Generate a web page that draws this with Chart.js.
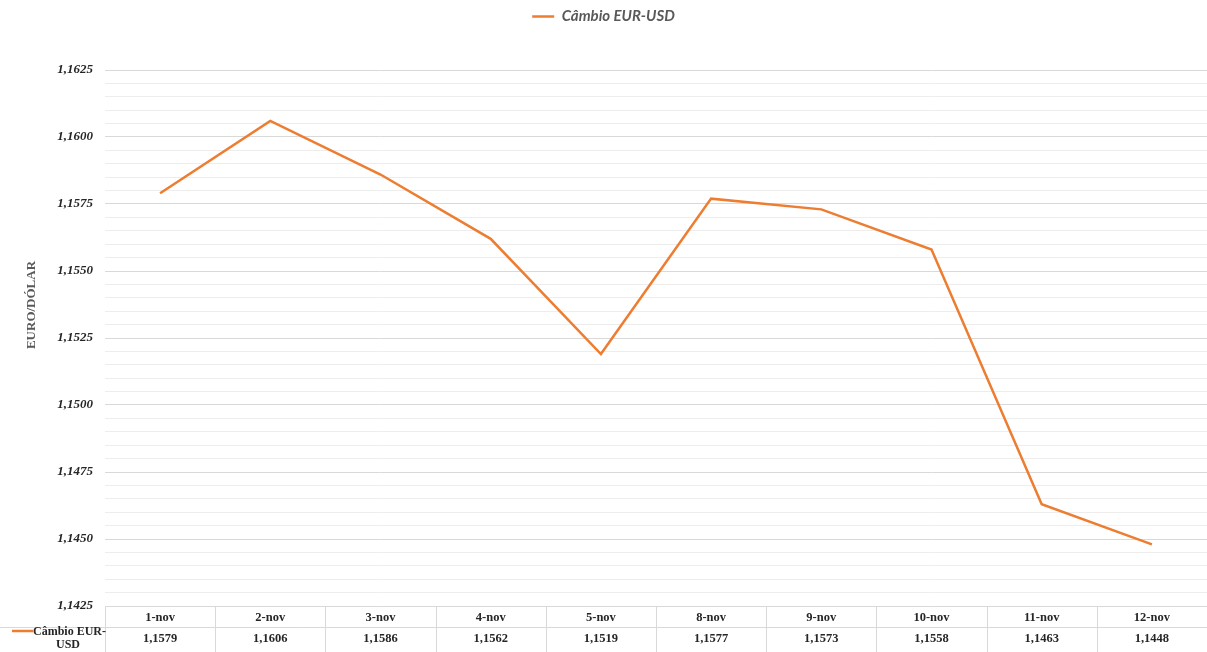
<!DOCTYPE html>
<html>
<head>
<meta charset="utf-8">
<script src="https://cdn.jsdelivr.net/npm/chart.js@4.4.1/dist/chart.umd.min.js"></script>
<style>
    html, body { margin: 0; padding: 0; background: #fff; }
    #wrap { width: 1207px; height: 652px; position: relative; }
</style>
</head>
<body>
<div id="wrap"><canvas id="fx-chart" width="1207" height="652"></canvas></div>
<script>
/* ---------- Data ---------- */

const days = ['1-nov', '2-nov', '3-nov', '4-nov', '5-nov', '8-nov', '9-nov', '10-nov', '11-nov', '12-nov'];
const eurUsd = [1.1579, 1.1606, 1.1586, 1.1562, 1.1519, 1.1577, 1.1573, 1.1558, 1.1463, 1.1448];
const seriesName = 'Câmbio EUR-USD';
const axisTitle = 'EURO/DÓLAR';
const yMin = 1.1425;
const yMax = 1.1625;

/* ---------- Style ---------- */

const ORANGE = '#ED7D31';
const GRID_MAJOR = '#d9d9d9';
const GRID_MINOR = '#ededed';
const TEXT = '#262626';
const SERIF = '"Liberation Serif", "DejaVu Serif", serif';

const fmt = v => v.toFixed(4).replace('.', ',');
const isMajor = v => Math.round(v * 10000) % 25 === 0;

const TABLE_ROW1 = 21;   // header row height
const TABLE_ROW2 = 25;   // value row height
const LEGEND_GAP = 36;   // space between legend and plot area

// push the plot area down below the legend
const legendGapPlugin = {
    id: 'legendGap',
    beforeLayout(chart) {
        const lg = chart.legend;
        if (lg && !lg._gapPatched) {
            const fit = lg.fit.bind(lg);
            lg.fit = function () { fit(); this.height += LEGEND_GAP; };
            lg._gapPatched = true;
        }
    }
};

// axis title + data table, drawn below the chart area
const dataTablePlugin = {
    id: 'dataTable',
    afterDraw(chart) {
        const { ctx, chartArea, scales } = chart;
        const x = scales.x;
        const top = chartArea.bottom;
        const mid = top + TABLE_ROW1;
        const bottom = mid + TABLE_ROW2;
        const colW = (chartArea.right - chartArea.left) / days.length;

        ctx.save();
        ctx.strokeStyle = GRID_MAJOR;
        ctx.lineWidth = 1;
        ctx.beginPath();
        ctx.moveTo(chartArea.left, top + 0.5);
        ctx.lineTo(chartArea.right, top + 0.5);
        ctx.moveTo(0, mid + 0.5);
        ctx.lineTo(chartArea.right, mid + 0.5);
        for (let i = 0; i <= days.length; i++) {
            const px = Math.round(chartArea.left + i * colW) + 0.5;
            ctx.moveTo(px, top);
            ctx.lineTo(px, bottom);
        }
        ctx.stroke();

        ctx.fillStyle = TEXT;
        ctx.font = 'bold 12.5px ' + SERIF;
        ctx.textAlign = 'center';
        ctx.textBaseline = 'middle';
        days.forEach((d, i) => {
            const px = x.getPixelForValue(i);
            ctx.fillText(d, px, top + TABLE_ROW1 / 2 + 1);
            ctx.fillText(fmt(eurUsd[i]), px, mid + TABLE_ROW2 / 2 - 1);
        });

        // legend key cell
        ctx.strokeStyle = ORANGE;
        ctx.lineWidth = 2.5;
        ctx.beginPath();
        ctx.moveTo(12, mid + 4);
        ctx.lineTo(33, mid + 4);
        ctx.stroke();
        ctx.font = 'bold 12px ' + SERIF;
        ctx.textAlign = 'left';
        ctx.fillText('Câmbio EUR-', 33, mid + 5);
        ctx.textAlign = 'center';
        ctx.fillText('USD', 68, mid + 18);

        // y axis title
        ctx.translate(32, 305);
        ctx.rotate(-Math.PI / 2);
        ctx.fillStyle = '#595959';
        ctx.font = 'bold 13px ' + SERIF;
        ctx.fillText(axisTitle, 0, 0);
        ctx.restore();
    }
};

new Chart(document.getElementById('fx-chart'), {
    type: 'line',
    data: {
        labels: days,
        datasets: [{
            label: seriesName,
            data: eurUsd,
            borderColor: ORANGE,
            backgroundColor: ORANGE,
            borderWidth: 2.5,
            pointRadius: 0,
            tension: 0,
        }],
    },
    options: {
        responsive: false,
        animation: false,
        layout: { padding: { left: 0, right: 0, top: 0, bottom: TABLE_ROW1 + TABLE_ROW2 } },
        plugins: {
            tooltip: { enabled: false },
            legend: {
                position: 'top',
                labels: {
                    usePointStyle: true,
                    pointStyle: 'line',
                    pointStyleWidth: 22,
                    color: '#595959',
                    font: { family: 'Lato, "Open Sans", sans-serif', size: 15, weight: 'bold', style: 'italic' },
                    padding: 9,
                },
            },
        },
        scales: {
            x: {
                type: 'category',
                offset: true,
                display: false,
            },
            y: {
                min: yMin,
                max: yMax,
                border: { display: false },
                grid: {
                    drawTicks: false,
                    color: ctx => isMajor(ctx.tick.value) ? GRID_MAJOR : GRID_MINOR,
                    lineWidth: 1,
                },
                ticks: {
                    stepSize: 0.0005,
                    autoSkip: false,
                    padding: 12,
                    color: TEXT,
                    font: { family: SERIF, size: 13, weight: 'bold', style: 'italic' },
                    callback: v => isMajor(v) ? fmt(v) : '',
                },
                afterFit: s => { s.width = 105; },
            },
        },
    },
    plugins: [legendGapPlugin, dataTablePlugin],
});
</script>
</body>
</html>
